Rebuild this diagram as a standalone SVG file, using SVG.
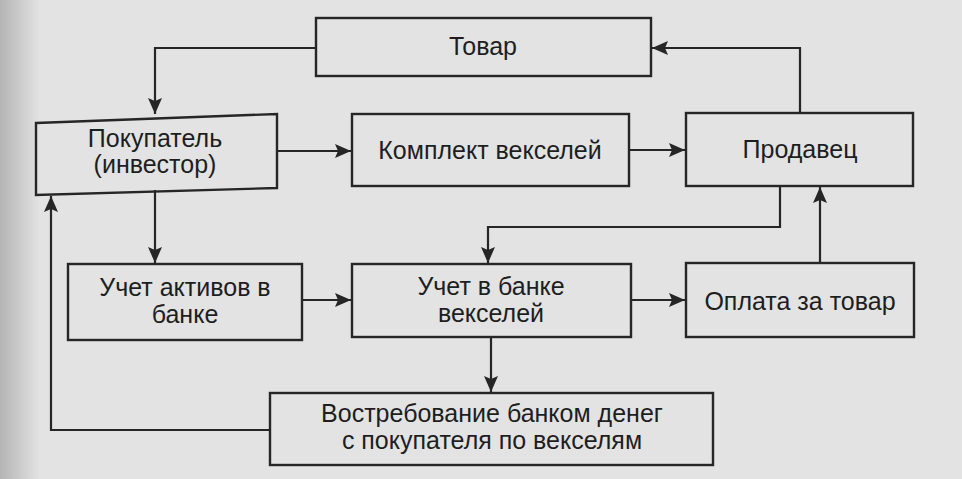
<svg xmlns="http://www.w3.org/2000/svg" width="962" height="479" viewBox="0 0 962 479">
<defs>
<linearGradient id="edge" x1="0" y1="0" x2="1" y2="0">
<stop offset="0" stop-color="#b4b4b4"/>
<stop offset="1" stop-color="#e3e3e3"/>
</linearGradient>
<marker id="ah" viewBox="0 0 16 14" refX="16" refY="7" markerWidth="16" markerHeight="14" markerUnits="userSpaceOnUse" orient="auto">
<path d="M0,0 L16,7 L0,14 L3,7 Z" fill="#262626"/>
</marker>
<style>
.box{fill:none;stroke:#262626;stroke-width:2.4}
.t{font-family:"Liberation Sans",Arial,sans-serif;font-size:25px;fill:#1e1e1e;text-anchor:middle}
.c{fill:none;stroke:#262626;stroke-width:2.2;marker-end:url(#ah)}
</style>
</defs>
<rect width="962" height="479" fill="#e3e3e3"/>
<rect width="40" height="479" fill="url(#edge)"/>
<g id="connectors">
<path class="c" d="M316,48 H155 V114"/>
<path class="c" d="M800,113 V48 H652"/>
<path class="c" d="M277,151 H351"/>
<path class="c" d="M629,150 H685"/>
<path class="c" d="M780,186 V227 H488 V263"/>
<path class="c" d="M155,190 V263"/>
<path class="c" d="M302,300 H351"/>
<path class="c" d="M631,300 H685"/>
<path class="c" d="M820,263 V187"/>
<path class="c" d="M491,337 V392"/>
<path class="c" d="M270,430 H51 V196"/>
</g>
<g id="tovar"><rect class="box" x="316" y="18" width="335" height="58"/><text class="t" x="483" y="55">Товар</text></g>
<g id="pokupatel"><path class="box" d="M36,123 L277,114 L277,188 L36,195 Z"/><text class="t" x="155" y="147">Покупатель</text><text class="t" x="155" y="173">(инвестор)</text></g>
<g id="komplekt"><rect class="box" x="352" y="114" width="277" height="72"/><text class="t" x="490" y="159">Комплект векселей</text></g>
<g id="prodavec"><rect class="box" x="686" y="113" width="227" height="73"/><text class="t" x="800" y="158">Продавец</text></g>
<g id="uchet-aktivov"><rect class="box" x="68" y="264" width="234" height="76"/><text class="t" x="185" y="296">Учет активов в</text><text class="t" x="185" y="323">банке</text></g>
<g id="uchet-vekseley"><rect class="box" x="352" y="264" width="279" height="73"/><text class="t" x="491" y="295">Учет в банке</text><text class="t" x="491" y="322">векселей</text></g>
<g id="oplata"><rect class="box" x="686" y="263" width="228" height="74"/><text class="t" x="800" y="310">Оплата за товар</text></g>
<g id="vostrebovanie"><rect class="box" x="270" y="393" width="443" height="72"/><text class="t" x="492" y="422">Востребование банком денег</text><text class="t" x="492" y="449">с покупателя по векселям</text></g>
</svg>
